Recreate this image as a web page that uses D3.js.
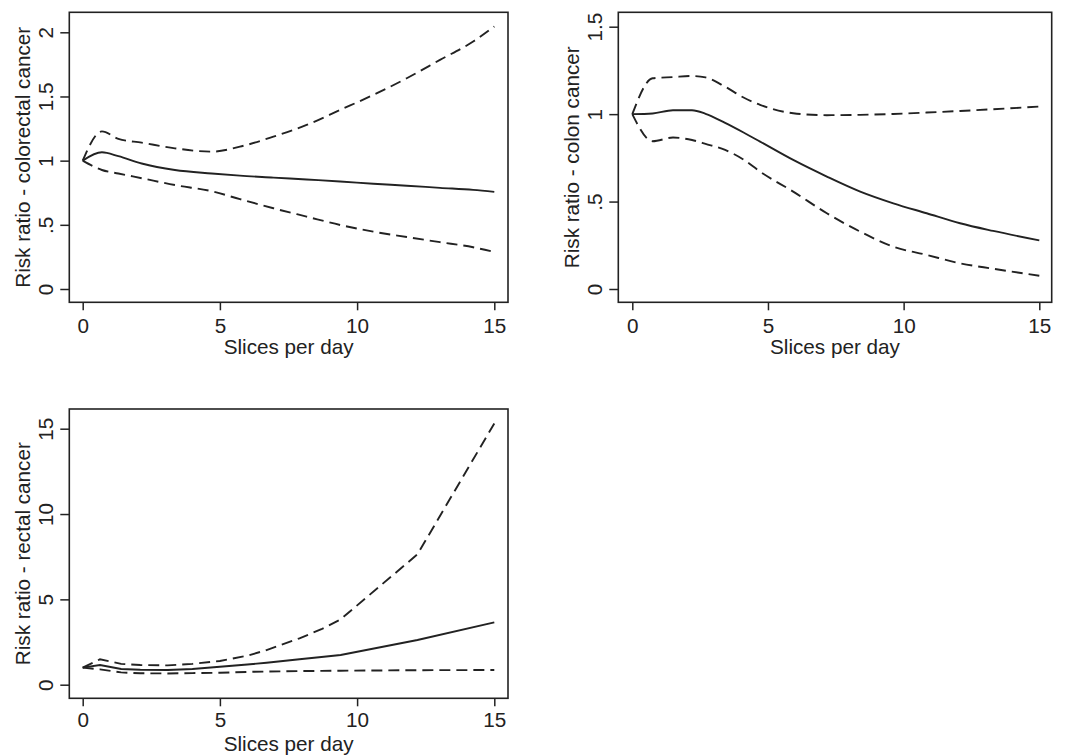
<!DOCTYPE html>
<html>
<head>
<meta charset="utf-8">
<script src="https://cdn.jsdelivr.net/npm/d3@7"></script>
<style>
  body { margin: 0; background: #fff; }
  svg { display: block; font-family: "Liberation Sans", Arial, Helvetica, sans-serif; }
</style>
</head>
<body>
<svg id="chart" width="1066" height="756"></svg>
<script>
// Colorectal cancer
var colorectalSlices = [0, 0.7, 1.3, 2.15, 3.36, 4.7, 5.73, 6.95, 8.16, 9.38, 10.59, 11.81, 13.02, 14.23, 15];
var colorectalRR     = [1, 1.065, 1.035, 0.978, 0.927, 0.90, 0.883, 0.868, 0.853, 0.838, 0.82, 0.805, 0.788, 0.772, 0.757];
var colorectalUpper  = [1, 1.228, 1.17, 1.14, 1.096, 1.07, 1.109, 1.187, 1.278, 1.395, 1.512, 1.642, 1.785, 1.928, 2.045];
var colorectalLower  = [1, 0.927, 0.9, 0.863, 0.81, 0.762, 0.7, 0.629, 0.564, 0.499, 0.447, 0.405, 0.365, 0.325, 0.288];

// Colon cancer
var colonSlices = [0, 0.75, 1.5, 2.2, 2.7, 3.42, 4.1, 4.71, 5.93, 7.17, 8.4, 9.62, 10.85, 12.08, 13.3, 15];
var colonRR     = [1, 1.004, 1.022, 1.022, 1.002, 0.95, 0.895, 0.843, 0.738, 0.643, 0.557, 0.49, 0.433, 0.376, 0.332, 0.278];
var colonUpper  = [1, 1.205, 1.212, 1.218, 1.21, 1.157, 1.095, 1.053, 1.005, 0.994, 0.996, 1.001, 1.009, 1.018, 1.028, 1.043];
var colonLower  = [1, 0.845, 0.866, 0.852, 0.83, 0.795, 0.74, 0.671, 0.557, 0.433, 0.328, 0.242, 0.195, 0.147, 0.116, 0.076];

// Rectal cancer
var rectalSlices = [0, 0.63, 1.4, 2.1, 3.1, 4.0, 5.0, 6.0, 6.7, 7.9, 8.7, 9.4, 12.2, 15];
var rectalRR     = [1, 1.15, 0.92, 0.88, 0.86, 0.92, 1.05, 1.18, 1.29, 1.49, 1.62, 1.74, 2.62, 3.65];
var rectalUpper  = [1, 1.49, 1.22, 1.15, 1.13, 1.22, 1.39, 1.7, 2.03, 2.72, 3.25, 3.83, 7.64, 15.31];
var rectalLower  = [1, 0.9, 0.72, 0.67, 0.66, 0.68, 0.7, 0.75, 0.77, 0.8, 0.81, 0.82, 0.85, 0.86];

var xTicks = [0, 5, 10, 15];
var xTitle = "Slices per day";

var ink = "#222";
var fontSize = 20.7;

var svg = d3.select("#chart");

function fmt(v){
  // Stata style: no leading zero
  return String(v).replace(/^0\./, ".");
}

function panel(o){
  var g = svg.append("g").attr("color", ink);

  var x = d3.scaleLinear().domain([0, 15]).range([o.x0, o.x15]);
  var y = d3.scaleLinear().domain([0, o.yTicks[o.yTicks.length - 1]]).range([o.yZero, o.yTop]);

  // frame
  g.append("rect")
    .attr("x", o.left).attr("y", o.top)
    .attr("width", o.right - o.left).attr("height", o.bottom - o.top)
    .attr("fill", "none").attr("stroke", ink).attr("stroke-width", 1.6);

  var xAxisG = g.append("g")
    .attr("transform", "translate(0," + o.bottom + ")")
    .call(d3.axisBottom(x).tickValues(xTicks).tickSize(8).tickSizeOuter(0));
  xAxisG.select(".domain").remove();
  xAxisG.attr("font-size", fontSize).attr("font-family", null);
  xAxisG.selectAll("line").attr("stroke-width", 1.5);
  xAxisG.selectAll("text").attr("y", o.xLabelDy).attr("dy", 0).attr("fill", ink);

  var yAxisG = g.append("g")
    .attr("transform", "translate(" + o.left + ",0)")
    .call(d3.axisLeft(y).tickValues(o.yTicks).tickFormat(fmt).tickSize(9).tickSizeOuter(0));
  yAxisG.select(".domain").remove();
  yAxisG.attr("font-size", fontSize).attr("font-family", null);
  yAxisG.selectAll("line").attr("stroke-width", 1.5);
  yAxisG.selectAll("text")
    .attr("transform", "rotate(-90)")
    .attr("x", 0).attr("y", -16).attr("dy", 0)
    .attr("text-anchor", "middle")
    .attr("fill", ink);

  // titles
  g.append("text")
    .attr("transform", "translate(" + (o.left - 39) + "," + ((o.top + o.bottom) / 2) + ") rotate(-90)")
    .attr("text-anchor", "middle")
    .attr("font-size", fontSize)
    .attr("fill", ink)
    .text(o.yTitle);

  g.append("text")
    .attr("x", (o.left + o.right) / 2)
    .attr("y", o.bottom + o.xTitleDy)
    .attr("text-anchor", "middle")
    .attr("font-size", fontSize)
    .attr("fill", ink)
    .text(xTitle);

  var line = d3.line()
    .x(function (d){ return x(d[0]); })
    .y(function (d){ return y(d[1]); })
    .curve(o.curve);

  var series = [
    { values: o.upper, dash: "11,6" },
    { values: o.lower, dash: "11,6" },
    { values: o.rr, dash: null }
  ];

  g.selectAll("path.curve").data(series).enter().append("path")
    .attr("class", "curve")
    .attr("d", function (s){ return line(d3.zip(o.slices, s.values)); })
    .attr("fill", "none")
    .attr("stroke", ink)
    .attr("stroke-width", 1.9)
    .attr("stroke-dasharray", function (s){ return s.dash; });
}

panel({
  left: 69.3, right: 508, top: 12.3, bottom: 302.3,
  x0: 82.7, x15: 494.3, yZero: 289, yTop: 32.3,
  yTicks: [0, 0.5, 1, 1.5, 2],
  yTitle: "Risk ratio - colorectal cancer",
  xLabelDy: 31, xTitleDy: 52,
  slices: colorectalSlices, rr: colorectalRR, upper: colorectalUpper, lower: colorectalLower,
  curve: d3.curveMonotoneX
});

panel({
  left: 618.3, right: 1051.7, top: 12.3, bottom: 302.3,
  x0: 632.3, x15: 1039.3, yZero: 289, yTop: 26.7,
  yTicks: [0, 0.5, 1, 1.5],
  yTitle: "Risk ratio - colon cancer",
  xLabelDy: 31, xTitleDy: 52,
  slices: colonSlices, rr: colonRR, upper: colonUpper, lower: colonLower,
  curve: d3.curveMonotoneX
});

panel({
  left: 69.3, right: 508, top: 409, bottom: 698.3,
  x0: 82.7, x15: 494.3, yZero: 684.7, yTop: 428.7,
  yTicks: [0, 5, 10, 15],
  yTitle: "Risk ratio - rectal cancer",
  xLabelDy: 29, xTitleDy: 53,
  slices: rectalSlices, rr: rectalRR, upper: rectalUpper, lower: rectalLower,
  curve: d3.curveLinear
});
</script>
</body>
</html>
